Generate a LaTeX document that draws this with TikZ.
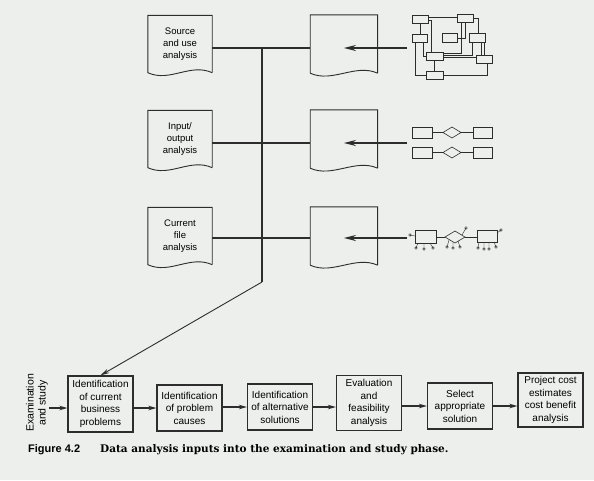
\documentclass[tikz,border=0pt]{standalone}
\usepackage{fontspec}
\setmainfont{Liberation Serif}
\setsansfont{Liberation Sans}
\newfontfamily\captionserif{DejaVu Serif}
\usetikzlibrary{arrows.meta,positioning}

\begin{document}
\begin{tikzpicture}[
  x=1pt, y=-1pt,
  font=\sffamily\fontsize{9.5}{12}\selectfont,
  >=Stealth,
  doc/.style={minimum width=64pt, minimum height=57pt, inner sep=0pt, align=center},
  widedoc/.style={doc, minimum width=67pt, minimum height=58pt},
  docline/.style={draw=ink, line width=0.9pt},
  stage/.style={draw=ink, line width=1.2pt, minimum width=65pt, inner sep=1pt, align=center,
    font=\sffamily\fontsize{10}{12.5}\selectfont},
  link/.style={draw=ink, line width=1.4pt},
  feed/.style={draw=ink, line width=1.9pt, -{Stealth[length=12pt,width=6pt]}},
  flow/.style={draw=ink, line width=1.4pt, -{Stealth[length=8pt,width=4.5pt]}},
  ent/.style={draw=ink, line width=0.6pt}
]

\definecolor{ink}{RGB}{45,45,45}
\definecolor{paper}{RGB}{236,239,236}

\fill[paper] (0,0) rectangle (594,480);
\useasboundingbox (0,0) rectangle (594,480);

% Analysis documents (left) and data documents (middle)
\node[doc] (src) at (180,44) {Source\\and use\\analysis};
\node[doc] (io)  at (180,139) {Input/\\output\\analysis};
\node[doc] (cur) at (180,236) {Current\\file\\analysis};
\node[widedoc, right=98pt of src] (f1) {};
\node[widedoc, right=98pt of io]  (f2) {};
\node[widedoc, right=98pt of cur] (f3) {};
\foreach \n in {src,io,cur,f1,f2,f3}
  \draw[docline] (\n.south east) -- (\n.north east) -- (\n.north west) -- (\n.south west)
    .. controls +(22,10) and +(-22,-10) .. (\n.south east);

% Joins and the trunk down to the study phase
\coordinate (j1) at (262,48);
\coordinate (j2) at (262,143);
\coordinate (j3) at (262,238);
\coordinate (kink) at (262,282);
\draw[link] (src.east |- j1) -- (f1.west |- j1);
\draw[link] (io.east |- j2) -- (f2.west |- j2);
\draw[link] (cur.east |- j3) -- (f3.west |- j3);
\draw[link] (j1) -- (kink);

% Data model sketches feeding the middle documents
\coordinate (er1) at (407,48);
\coordinate (er2) at (407,143);
\coordinate (er3) at (407,238);
\draw[feed] (er1) -- (f1.center |- er1);
\draw[feed] (er2) -- (f2.center |- er2);
\draw[feed] (er3) -- (f3.center |- er3);

% Sketch 1: network of records
\foreach \xa/\ya/\xb/\yb in {412/15/428/23, 457/14/473/22, 412/34/427/42, 442/33/457/42,
    469/33/485/42, 426/52/443/60, 476/55/492/63, 426/71/443/79}
  \draw[ent] (\xa,\ya) rectangle (\xb,\yb);
\draw[ent] (428,17) -- (457,17)
  (420,23) -- (420,34)
  (428,20) -- (431,20) -- (431,52)
  (415,42) -- (415,75) -- (426,75)
  (423,42) -- (423,56) -- (426,56)
  (457,38) -- (465,38) -- (465,22)
  (461,22) -- (461,53) -- (443,53)
  (473,18) -- (478,18) -- (478,33)
  (443,57) -- (476,57)
  (472,42) -- (472,55) -- (443,55)
  (481,42) -- (481,55)
  (484,42) -- (484,55)
  (443,75) -- (487,75) -- (487,63)
  (434,60) -- (434,71);

% Sketch 2: entity relationship pairs
\foreach \y in {127,147} {
  \draw[ent] (412,\y) rectangle (432,\y+11);
  \draw[ent] (473,\y) rectangle (492,\y+11);
  \draw[ent] (443,\y+5.5) -- (452,\y) -- (461,\y+5.5) -- (452,\y+11) -- cycle;
  \draw[ent] (432,\y+5.5) -- (443,\y+5.5) (461,\y+5.5) -- (473,\y+5.5);
}

% Sketch 3: entities with attributes
\draw[ent] (415,230) rectangle (436,243);
\draw[ent] (477,230) rectangle (497,242);
\draw[ent] (445,237) -- (455,231) -- (465,237) -- (455,243) -- cycle;
\draw[ent] (436,237) -- (445,237) (465,237) -- (477,237);
\foreach \xa/\ya/\xb/\yb in {415/236/410/235, 418/243/416/248, 424/243/424/249, 430/243/433/248,
    449/240/447/247, 453/242/453/248, 458/241/460/247, 462/235/466/228,
    479/242/478/248, 484/242/484/249, 489/242/489/249, 494/242/496/247, 497/233/501/230}
  \draw[ent, line width=0.4pt] (\xa,\ya) -- (\xb,\yb) circle[radius=1.3];

% Examination and study phase
\node[rotate=90, align=center, inner sep=1pt, font=\sffamily\fontsize{10.5}{12}\selectfont] (ex) at (37,403) {Examination\\and study};
\node[stage, minimum height=56pt] (p1) at (100.5,404) {Identification\\of current\\business\\problems};
\node[stage, minimum height=46pt] (p2) at (189.5,408) {Identification\\of problem\\causes};
\node[stage, minimum height=46pt] (p3) at (280,407) {Identification\\of alternative\\solutions};
\node[stage, minimum height=55pt] (p4) at (369,403) {Evaluation\\and\\feasibility\\analysis};
\node[stage, minimum height=46pt] (p5) at (460,406) {Select\\appropriate\\solution};
\node[stage, minimum height=54pt] (p6) at (550.5,400) {Project cost\\estimates\\cost benefit\\analysis};
\draw[flow] (ex.south |- p2) -- (p1.west |- p2);
\foreach \a/\b/\c in {p1/p2/p2, p2/p3/p3, p3/p4/p3, p4/p5/p5, p5/p6/p5}
  \draw[flow] (\a.east |- \c) -- (\b.west |- \c);
\draw[draw=ink, line width=0.9pt, -{Stealth[length=9pt,width=4.5pt]}] (kink) -- (p1.north);

% Caption
\node[anchor=base west, inner sep=0pt, font=\sffamily\bfseries\fontsize{11}{13}\selectfont] (fig) at (28,452) {Figure 4.2};
\node[anchor=base west, inner sep=0pt, font=\captionserif\bfseries\fontsize{10.5}{12}\selectfont] (cap) at (100,452)
  {Data analysis inputs into the examination and study phase.};

\end{tikzpicture}
\end{document}
